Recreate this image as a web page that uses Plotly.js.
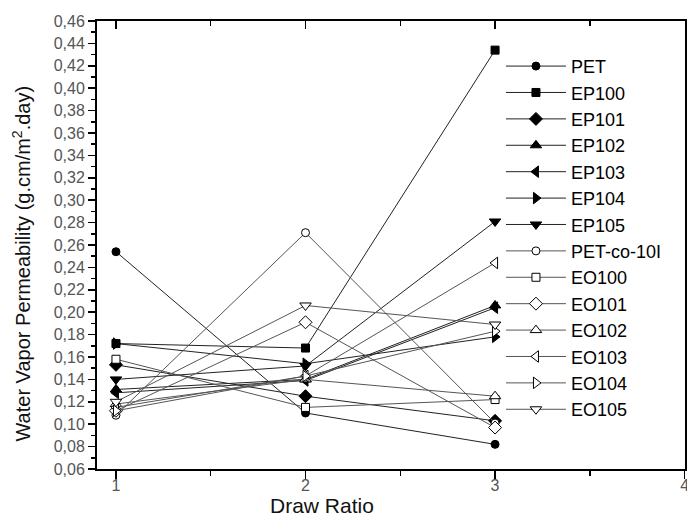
<!DOCTYPE html>
<html>
<head>
<meta charset="utf-8">
<script src="https://cdn.plot.ly/plotly-3.0.1.min.js"></script>
<style>
  html, body { margin: 0; padding: 0; background: #fff; }
  #chart { width: 687px; height: 520px; }
</style>
</head>
<body>
<div id="chart"></div>
<script>
// Draw ratio (x) and water vapor permeability values for each sample
const drawRatio = [1, 2, 3];

const pet      = [0.254, 0.110, 0.082];
const ep100    = [0.172, 0.168, 0.434];
const ep101    = [0.153, 0.125, 0.103];
const ep102    = [0.131, 0.140, 0.206];
const ep103    = [0.128, 0.139, 0.204];
const ep104    = [0.172, 0.154, 0.178];
const ep105    = [0.140, 0.152, 0.281];
const petCo10I = [0.108, 0.271, 0.101];
const eo100    = [0.158, 0.115, 0.122];
const eo101    = [0.112, 0.191, 0.097];
const eo102    = [0.118, 0.140, 0.125];
const eo103    = [0.115, 0.143, 0.244];
const eo104    = [0.112, 0.143, 0.183];
const eo105    = [0.120, 0.206, 0.189];

const seriesNames = ['PET', 'EP100', 'EP101', 'EP102', 'EP103', 'EP104', 'EP105',
                     'PET-co-10I', 'EO100', 'EO101', 'EO102', 'EO103', 'EO104', 'EO105'];
const seriesValues = [pet, ep100, ep101, ep102, ep103, ep104, ep105,
                      petCo10I, eo100, eo101, eo102, eo103, eo104, eo105];

// marker shape per series; first seven solid, last seven hollow
const symbols = ['circle', 'square', 'diamond', 'triangle-up', 'triangle-left', 'triangle-right', 'triangle-down',
                 'circle', 'square', 'diamond', 'triangle-up', 'triangle-left', 'triangle-right', 'triangle-down'];

const traces = seriesNames.map((name, i) => {
  const hollow = i >= 7;
  return {
    x: drawRatio,
    y: seriesValues[i],
    name: name,
    type: 'scatter',
    mode: 'lines+markers',
    line: { color: hollow ? '#555' : '#222', width: 1 },
    marker: {
      symbol: symbols[i],
      size: symbols[i] === 'circle' ? 8 : (symbols[i] === 'square' ? 8 : 10),
      color: hollow ? '#fff' : '#000',
      line: { color: '#000', width: 1 }
    }
  };
});

// empty trace bound to the top axis so its inside ticks are drawn
traces.push({ x: [], y: [], xaxis: 'x2', yaxis: 'y', showlegend: false, hoverinfo: 'skip', type: 'scatter' });

const font = 'Arial, "Liberation Sans", sans-serif';
const xRange = [0.9, 4.002];

const layout = {
  width: 687,
  height: 520,
  margin: { l: 97, r: 2, t: 21, b: 51 },
  paper_bgcolor: '#fff',
  plot_bgcolor: '#fff',
  separators: ',.',
  font: { family: font, color: '#000' },
  showlegend: true,
  legend: {
    x: 0.687, y: 0.94, xanchor: 'left', yanchor: 'top',
    bgcolor: 'rgba(0,0,0,0)',
    borderwidth: 0,
    itemwidth: 60,
    font: { family: font, size: 18, color: '#000' }
  },
  xaxis: {
    range: xRange,
    tickvals: [1, 2, 3, 4],
    ticktext: ['1', '2', '3', '4'],
    ticks: 'outside', ticklen: 8, tickwidth: 1.5, tickcolor: '#000',
    ticklabelstandoff: -7,
    ticklabeloverflow: 'allow',
    minor: { tickvals: [1.5, 2.5, 3.5], ticks: 'outside', ticklen: 5, tickwidth: 1.5, tickcolor: '#000' },
    showline: true, linecolor: '#000', linewidth: 2, mirror: true,
    showgrid: false, zeroline: false,
    tickfont: { family: font, size: 16, color: '#555' }
  },
  xaxis2: {
    overlaying: 'x', side: 'top', matches: 'x',
    range: xRange,
    tickvals: [1, 2, 3, 4],
    ticks: 'inside', ticklen: 8, tickwidth: 1.5, tickcolor: '#000',
    minor: { tickvals: [1.5, 2.5, 3.5], ticks: 'inside', ticklen: 5, tickwidth: 1.5, tickcolor: '#000' },
    showticklabels: false, showgrid: false, zeroline: false, showline: false
  },
  yaxis: {
    range: [0.06, 0.46],
    dtick: 0.02, tick0: 0.06,
    tickformat: '.2f',
    ticks: 'outside', ticklen: 7, tickwidth: 1.5, tickcolor: '#000',
    minor: { dtick: 0.01, ticks: 'outside', ticklen: 4, tickwidth: 1.5, tickcolor: '#000' },
    showline: true, linecolor: '#000', linewidth: 2, mirror: true,
    showgrid: false, zeroline: false,
    tickfont: { family: font, size: 16, color: '#555' }
  },
  // axis titles, placed as Origin lays them out
  annotations: [
    {
      text: 'Draw Ratio',
      xref: 'paper', yref: 'paper', x: 0.382, y: -0.082,
      xanchor: 'center', yanchor: 'middle', showarrow: false,
      font: { family: font, size: 21, color: '#111' }
    },
    {
      text: 'Water Vapor Permeability (g.cm/m<sup>2</sup>.day)',
      xref: 'paper', yref: 'paper', x: -0.128, y: 0.458,
      xanchor: 'center', yanchor: 'middle', textangle: -90, showarrow: false,
      font: { family: font, size: 20, color: '#111' }
    }
  ]
};

Plotly.newPlot('chart', traces, layout, { displayModeBar: false, staticPlot: true });
</script>
</body>
</html>
